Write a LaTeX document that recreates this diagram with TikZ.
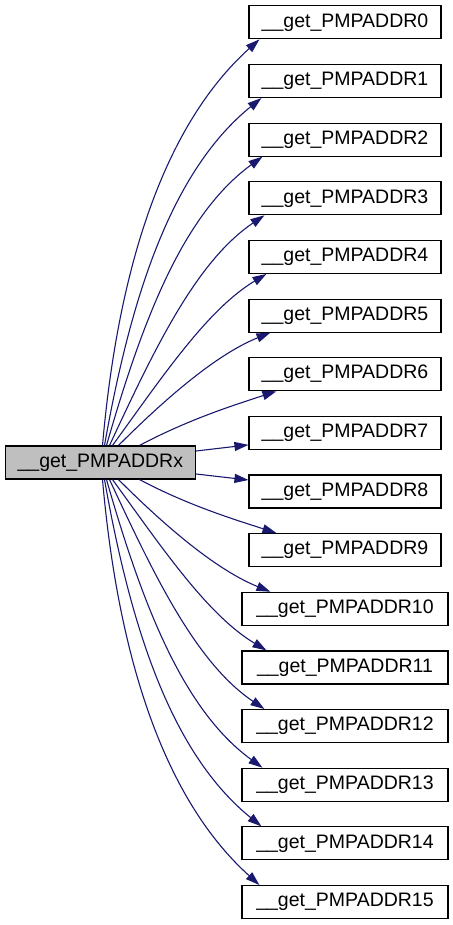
\documentclass[tikz,border=0pt]{standalone}
\usepackage{fontspec}
\setmainfont{Liberation Sans}
\usetikzlibrary{arrows.meta}
\definecolor{edgeblue}{HTML}{191970}
\definecolor{srcgray}{HTML}{BFBFBF}
\begin{document}
\begin{tikzpicture}[x=1pt,y=-1pt,
  box/.style={draw=black, line width=1.1pt, fill=white, minimum height=33pt, inner sep=0pt, font=\fontsize{19.5}{22}\selectfont, text=black},
  narrow/.style={box, minimum width=192pt},
  wide/.style={box, minimum width=206pt},
  srcbox/.style={box, fill=srcgray, minimum width=190.5pt},
  edge/.style={draw=edgeblue, line width=1.1pt, -{Triangle[length=14pt,width=9pt]}}]
\useasboundingbox (0,0) rectangle (452,925);

\node[srcbox] (s) at (100.3,462.5) {\_\_get\_PMPADDRx};

\node[narrow] (t0) at (345,22.3) {\_\_get\_PMPADDR0};
\node[narrow] (t1) at (345,80.95) {\_\_get\_PMPADDR1};
\node[narrow] (t2) at (345,139.6) {\_\_get\_PMPADDR2};
\node[narrow] (t3) at (345,198.25) {\_\_get\_PMPADDR3};
\node[narrow] (t4) at (345,256.9) {\_\_get\_PMPADDR4};
\node[narrow] (t5) at (345,315.55) {\_\_get\_PMPADDR5};
\node[narrow] (t6) at (345,374.2) {\_\_get\_PMPADDR6};
\node[narrow] (t7) at (345,432.85) {\_\_get\_PMPADDR7};
\node[narrow] (t8) at (345,491.5) {\_\_get\_PMPADDR8};
\node[narrow] (t9) at (345,550.15) {\_\_get\_PMPADDR9};
\node[wide] (t10) at (345,608.8) {\_\_get\_PMPADDR10};
\node[wide] (t11) at (345,667.45) {\_\_get\_PMPADDR11};
\node[wide] (t12) at (345,726.1) {\_\_get\_PMPADDR12};
\node[wide] (t13) at (345,784.75) {\_\_get\_PMPADDR13};
\node[wide] (t14) at (345,843.4) {\_\_get\_PMPADDR14};
\node[wide] (t15) at (345,902.05) {\_\_get\_PMPADDR15};

% upper fan
\draw[edge] ([xshift=98pt]s.north west) .. controls +(-85:174) and +(138:131) .. ([xshift=11pt]t0.south west);
\draw[edge] ([xshift=100pt]s.north west) .. controls +(-80:153) and +(141:115) .. ([xshift=13pt]t1.south west);
\draw[edge] ([xshift=102pt]s.north west) .. controls +(-74:131) and +(144:98) .. ([xshift=14pt]t2.south west);
\draw[edge] ([xshift=105pt]s.north west) .. controls +(-65:105) and +(146:83) .. ([xshift=16pt]t3.south west);
\draw[edge] ([xshift=108pt]s.north west) .. controls +(-54:85) and +(149:69) .. ([xshift=18pt]t4.south west);
\draw[edge] ([xshift=114pt]s.north west) .. controls +(-45:70) and +(158:57) .. ([xshift=22pt]t5.south west);
\draw[edge] ([xshift=135pt]s.north west) .. controls +(-28:55) and +(162:44) .. ([xshift=28pt]t6.south west);
\draw[edge] ([yshift=11.5pt]s.east) -- ([yshift=-12pt]t7.west);
% lower fan
\draw[edge] ([yshift=-11.5pt]s.east) -- ([yshift=11.5pt]t8.west);
\draw[edge] ([xshift=135pt]s.south west) .. controls +(28:55) and +(198:44) .. ([xshift=28pt]t9.north west);
\draw[edge] ([xshift=114pt]s.south west) .. controls +(45:70) and +(202:57) .. ([xshift=29pt]t10.north west);
\draw[edge] ([xshift=108pt]s.south west) .. controls +(54:85) and +(211:69) .. ([xshift=25pt]t11.north west);
\draw[edge] ([xshift=105pt]s.south west) .. controls +(65:105) and +(214:83) .. ([xshift=23pt]t12.north west);
\draw[edge] ([xshift=102pt]s.south west) .. controls +(74:131) and +(216:98) .. ([xshift=21pt]t13.north west);
\draw[edge] ([xshift=100pt]s.south west) .. controls +(80:153) and +(219:115) .. ([xshift=20pt]t14.north west);
\draw[edge] ([xshift=98pt]s.south west) .. controls +(85:174) and +(222:131) .. ([xshift=18pt]t15.north west);
\end{tikzpicture}
\end{document}
